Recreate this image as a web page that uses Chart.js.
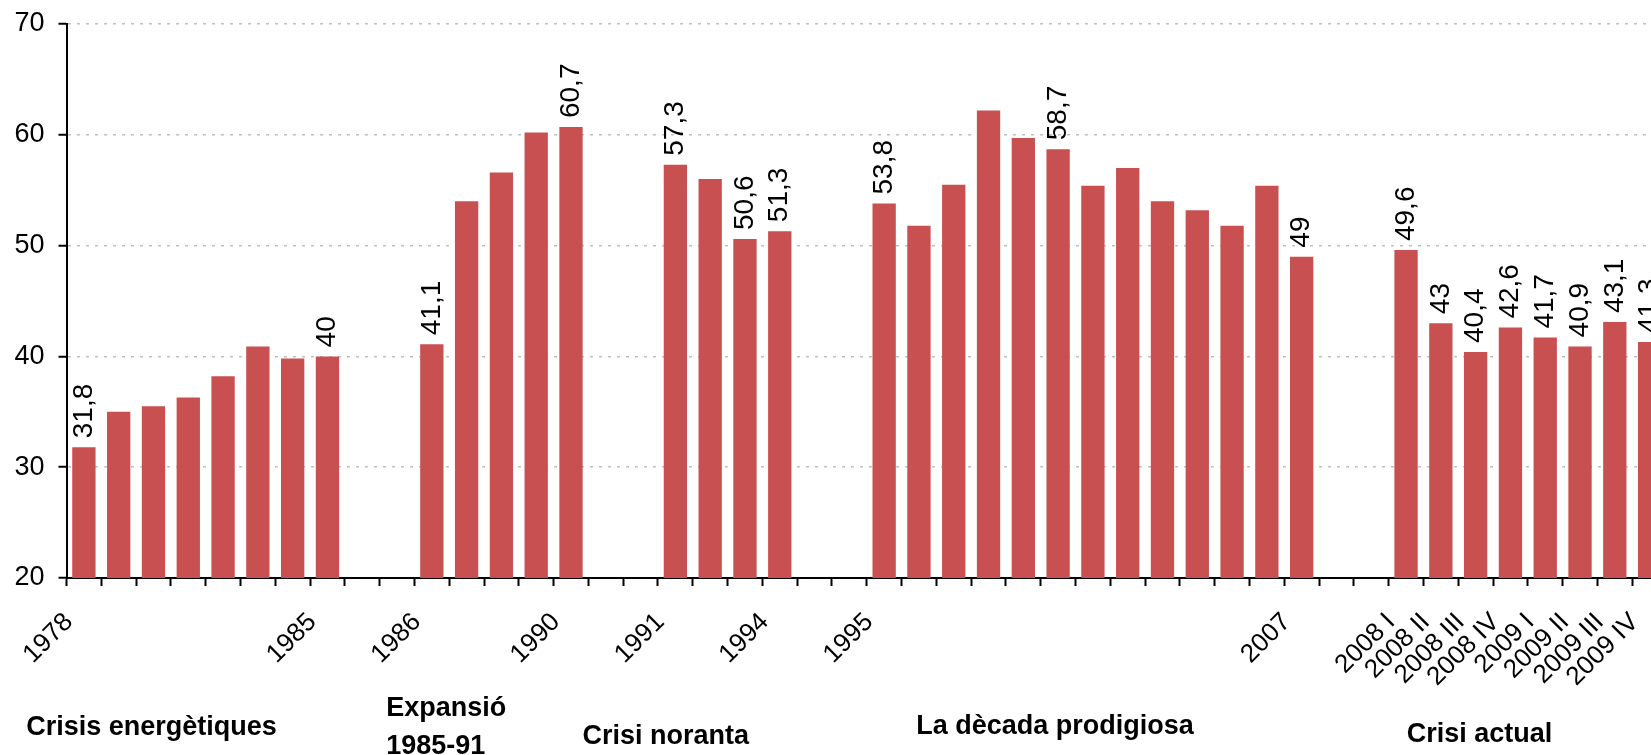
<!DOCTYPE html>
<html>
<head>
<meta charset="utf-8">
<script src="https://cdn.jsdelivr.net/npm/chart.js@4.4.0/dist/chart.umd.min.js"></script>
<style>
  html, body { margin: 0; padding: 0; background: #fff; overflow: hidden; }
  #wrap { width: 1651px; height: 755px; overflow: hidden; }
  canvas { display: block; }
</style>
</head>
<body>
<div id="wrap"><canvas id="chart" width="1667" height="755"></canvas></div>
<script>
// categories: '' marks the empty slots between periods
const categories = [
  '1978', '1979', '1980', '1981', '1982', '1983', '1984', '1985',
  '', '',
  '1986', '1987', '1988', '1989', '1990',
  '', '',
  '1991', '1992', '1993', '1994',
  '', '',
  '1995', '1996', '1997', '1998', '1999', '2000', '2001', '2002', '2003', '2004', '2005', '2006', '2007',
  '', '',
  '2008 I', '2008 II', '2008 III', '2008 IV', '2009 I', '2009 II', '2009 III', '2009 IV'
];
const values = [
  31.8, 35.0, 35.5, 36.3, 38.2, 40.9, 39.8, 40,
  null, null,
  41.1, 54.0, 56.6, 60.2, 60.7,
  null, null,
  57.3, 56.0, 50.6, 51.3,
  null, null,
  53.8, 51.8, 55.5, 62.2, 59.7, 58.7, 55.4, 57.0, 54.0, 53.2, 51.8, 55.4, 49,
  null, null,
  49.6, 43, 40.4, 42.6, 41.7, 40.9, 43.1, 41.3
];
// only these categories get an axis label
const shownTicks = ['1978', '1985', '1986', '1990', '1991', '1994', '1995', '2007',
  '2008 I', '2008 II', '2008 III', '2008 IV', '2009 I', '2009 II', '2009 III', '2009 IV'];
// only these bars get a value label
const labelledBars = ['1978', '1985', '1986', '1990', '1991', '1993', '1994', '1995', '2000', '2007',
  '2008 I', '2008 II', '2008 III', '2008 IV', '2009 I', '2009 II', '2009 III', '2009 IV'];
const yTicks = [20, 30, 40, 50, 60, 70];

// period names under the axis; at = category position of the text's left edge, dy = below axis
const groupNames = [['Crisis energètiques'], ['Expansió', '1985-91'], ['Crisi noranta'], ['La dècada prodigiosa'], ['Crisi actual']];
const groupAt = [-1.66, 8.69, 14.33, 23.92, 38.02];
const groupDy = [150, 131, 159, 149, 157];

const FONT = '"Liberation Sans", Arial, sans-serif';

const barLabels = {
  id: 'barLabels',
  afterDatasetsDraw(chart) {
    const { ctx } = chart;
    const meta = chart.getDatasetMeta(0);
    ctx.save();
    ctx.font = '28px ' + FONT;
    ctx.fillStyle = '#000';
    ctx.textAlign = 'left';
    ctx.textBaseline = 'middle';
    meta.data.forEach((bar, i) => {
      if (values[i] == null || !labelledBars.includes(categories[i])) return;
      ctx.save();
      ctx.translate(bar.x, bar.y - 9);
      ctx.rotate(-Math.PI / 2);
      ctx.fillText(String(values[i]).replace('.', ','), 0, 0);
      ctx.restore();
    });
    ctx.restore();
  }
};

const groupLabels = {
  id: 'groupLabels',
  afterDraw(chart) {
    const { ctx, chartArea } = chart;
    const x = chart.scales.x;
    ctx.save();
    ctx.font = 'bold 27px ' + FONT;
    ctx.fillStyle = '#000';
    ctx.textAlign = 'left';
    ctx.textBaseline = 'middle';
    groupNames.forEach((lines, g) => {
      const px = x.getPixelForValue(groupAt[g]);
      lines.forEach((t, k) => ctx.fillText(t, px, chartArea.bottom + groupDy[g] + k * 38));
    });
    ctx.restore();
  }
};

new Chart(document.getElementById('chart'), {
  type: 'bar',
  data: {
    labels: categories,
    datasets: [{
      data: values,
      backgroundColor: '#C85050',
      categoryPercentage: 1,
      barPercentage: 0.67
    }]
  },
  options: {
    responsive: false,
    animation: false,
    layout: { padding: { top: 24, right: 0, bottom: 0, left: 0 } },
    plugins: { legend: { display: false }, tooltip: { enabled: false } },
    scales: {
      x: {
        afterFit(s) { s.height = 177; s.paddingLeft = 0; s.paddingRight = 0; },
        grid: { display: true, drawOnChartArea: false, drawTicks: true, tickLength: 8, tickColor: '#000', tickWidth: 2, offset: true },
        border: { display: true, color: '#000', width: 2 },
        ticks: {
          autoSkip: false, maxRotation: 45, minRotation: 45, padding: 21, labelOffset: -15,
          color: '#000', font: { family: FONT, size: 26 },
          callback(v, i) { return shownTicks.includes(categories[i]) ? categories[i] : ''; }
        }
      },
      y: {
        min: 20, max: 70,
        afterFit(s) { s.width = 66.5; s.paddingTop = 0; s.paddingBottom = 0; },
        afterBuildTicks(s) { s.ticks = yTicks.map(v => ({ value: v })); },
        grid: { color: '#C0C0C0', lineWidth: 1.5, tickLength: 8, tickColor: '#000', tickWidth: 2, tickBorderDash: [] },
        border: { display: true, color: '#000', width: 2, dash: [3, 6] },
        ticks: { color: '#000', padding: 14, font: { family: FONT, size: 27 } }
      }
    }
  },
  plugins: [barLabels, groupLabels]
});
</script>
</body>
</html>
